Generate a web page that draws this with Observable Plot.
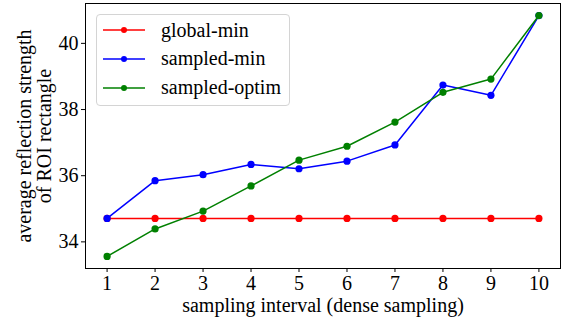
<!DOCTYPE html>
<html>
<head>
<meta charset="utf-8">
<script src="https://cdn.jsdelivr.net/npm/d3@7"></script>
<script src="https://cdn.jsdelivr.net/npm/@observablehq/plot@0.6"></script>
<style>
  html, body { margin: 0; padding: 0; background: #fff; font-family: "Liberation Serif", serif; }
  #wrap { position: relative; width: 564px; height: 320px; font-family: "Liberation Serif", serif; }
  #wrap svg, #wrap svg text { font-family: "Liberation Serif", serif !important; }
  #legend { position: absolute; left: 96px; top: 14px; width: 194px; height: 92px; box-sizing: border-box;
    border: 1px solid #d4d4d4; border-radius: 4px; background: rgba(255,255,255,0.8); }
  .item { position: absolute; left: 0; height: 20px; display: flex; align-items: center; font-size: 20px; color: #000; font-family: "Liberation Serif", serif; }
  .item svg { margin-left: 6px; margin-right: 16px; }
</style>
</head>
<body>
<div id="wrap"></div>
<script>
const intervals = [1, 2, 3, 4, 5, 6, 7, 8, 9, 10];
const globalMin = [34.71, 34.71, 34.71, 34.71, 34.71, 34.71, 34.71, 34.71, 34.71, 34.71];
const sampledMin = [34.71, 35.85, 36.03, 36.34, 36.21, 36.44, 36.93, 38.74, 38.43, 40.84];
const sampledOptim = [33.56, 34.39, 34.93, 35.69, 36.47, 36.89, 37.62, 38.52, 38.92, 40.84];
const seriesNames = ["global-min", "sampled-min", "sampled-optim"];
const seriesColors = ["#ff0000", "#0000ff", "#008000"];
const yTicks = [34, 36, 38, 40];

const seriesValues = [globalMin, sampledMin, sampledOptim];
const data = seriesNames.flatMap((name, i) =>
  intervals.map((x, j) => ({series: name, x, y: seriesValues[i][j]})));

const marks = [];
seriesNames.forEach((name, i) => {
  const d = data.filter(r => r.series === name);
  marks.push(Plot.line(d, {x: "x", y: "y", stroke: seriesColors[i], strokeWidth: 1.5}));
  marks.push(Plot.dot(d, {x: "x", y: "y", fill: seriesColors[i], r: 3.6}));
});

const chart = Plot.plot({
  width: 564,
  height: 320,
  marginLeft: 85,
  marginRight: 4,
  marginTop: 3,
  marginBottom: 52,
  style: {fontFamily: "'Liberation Serif', serif", fontSize: "20px", color: "#000", background: "#fff"},
  x: {domain: [0.55, 10.45], ticks: intervals},
  y: {domain: [33.195, 41.205], ticks: yTicks},
  marks: [
    ...marks,
    Plot.frame({stroke: "#000", strokeWidth: 1}),
    Plot.axisX({ticks: intervals, tickSize: 4, tickPadding: 3, fontSize: 20, fontFamily: "Liberation Serif",
      label: "sampling interval (dense sampling)", labelAnchor: "center", labelArrow: "none", labelOffset: 43}),
    Plot.axisY({ticks: yTicks, tickSize: 4, tickPadding: 3, fontSize: 20, fontFamily: "Liberation Serif",
      label: "average reflection strength\nof ROI rectangle", labelAnchor: "center", labelArrow: "none", labelOffset: 69})
  ]
});

const wrap = document.getElementById("wrap");
wrap.appendChild(chart);

const legend = document.createElement("div");
legend.id = "legend";
seriesNames.forEach((name, i) => {
  const item = document.createElement("div");
  item.className = "item";
  item.style.top = (5 + i * 28.8) + "px";
  item.innerHTML = `<svg width="42" height="10"><line x1="0" x2="42" y1="5" y2="5" stroke="${seriesColors[i]}" stroke-width="1.5"/><circle cx="21" cy="5" r="3" fill="${seriesColors[i]}"/></svg><span>${name}</span>`;
  legend.appendChild(item);
});
wrap.appendChild(legend);
</script>
</body>
</html>
